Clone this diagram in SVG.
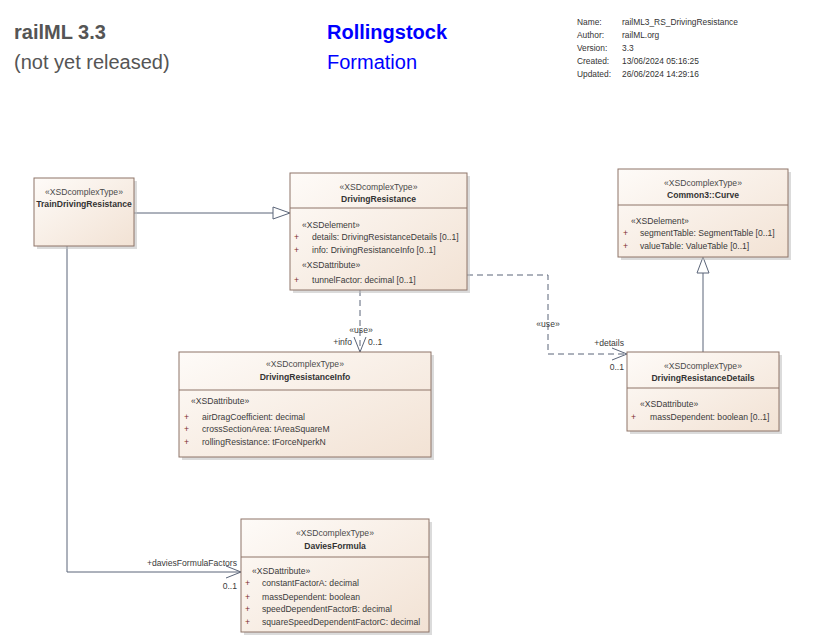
<svg xmlns="http://www.w3.org/2000/svg" width="831" height="644" viewBox="0 0 831 644">
<defs>
<linearGradient id="fillG" x1="0" y1="0" x2="1" y2="1">
<stop offset="0" stop-color="#FEFBF8"/>
<stop offset="1" stop-color="#F2E2D4"/>
</linearGradient>
<style>
.box{fill:url(#fillG);stroke:#8E7468;stroke-width:1}
.shadow{fill:#BDBDBD;opacity:0.55}
.div{stroke:#8E7468;stroke-width:1}
.t{font-family:"Liberation Sans",Arial,sans-serif;font-size:8.6px;fill:#3A3A3A}
.st{font-family:"Liberation Sans",Arial,sans-serif;font-size:8.6px;fill:#4A4A4A;text-anchor:middle}
.nm{font-family:"Liberation Sans",Arial,sans-serif;font-size:8.6px;font-weight:bold;fill:#333;text-anchor:middle}
.pl{font-family:"Liberation Sans",Arial,sans-serif;font-size:8.6px;fill:#7A2A2A}
.meta{font-family:"Liberation Sans",Arial,sans-serif;font-size:8.4px;fill:#333}
.ln{fill:none;stroke:#5A6478;stroke-width:1}
.dash{fill:none;stroke:#5A6478;stroke-width:1;stroke-dasharray:6 4}
.tri{fill:#FFFFFF;stroke:#5A6478;stroke-width:1}
.lbl{font-family:"Liberation Sans",Arial,sans-serif;font-size:8.6px;fill:#3A3A3A}
</style>
</defs>
<rect width="831" height="644" fill="#FFFFFF"/>

<g id="header">
<text x="14" y="39" font-family="Liberation Sans,Arial,sans-serif" font-size="20" font-weight="bold" fill="#555555">railML 3.3</text>
<text x="14" y="69" font-family="Liberation Sans,Arial,sans-serif" font-size="20" fill="#555555">(not yet released)</text>
<text x="327" y="39" font-family="Liberation Sans,Arial,sans-serif" font-size="20" font-weight="bold" fill="#0000FF">Rollingstock</text>
<text x="327" y="69" font-family="Liberation Sans,Arial,sans-serif" font-size="20" fill="#0000FF">Formation</text>
<text class="meta" x="577" y="25">Name:</text>
<text class="meta" x="622" y="25">railML3_RS_DrivingResistance</text>
<text class="meta" x="577" y="38">Author:</text>
<text class="meta" x="622" y="38">railML.org</text>
<text class="meta" x="577" y="51">Version:</text>
<text class="meta" x="622" y="51">3.3</text>
<text class="meta" x="577" y="64">Created:</text>
<text class="meta" x="622" y="64">13/06/2024 05:16:25</text>
<text class="meta" x="577" y="77">Updated:</text>
<text class="meta" x="622" y="77">26/06/2024 14:29:16</text>
</g>

<g id="connectors">
<!-- TrainDrivingResistance -> DrivingResistance generalization -->
<line class="ln" x1="134" y1="213" x2="273" y2="213"/>
<polygon class="tri" points="273,207 290,213 273,219"/>
<!-- DrivingResistanceDetails -> Common3::Curve generalization -->
<line class="ln" x1="703" y1="352" x2="703" y2="273"/>
<polygon class="tri" points="697,273 703,257 709,273"/>
<!-- DrivingResistance -> DrivingResistanceInfo -->
<line class="dash" x1="360" y1="290" x2="360" y2="352"/>
<polyline class="ln" points="354,337 360,352 366,337"/>
<text class="lbl" x="361" y="333" text-anchor="middle">«use»</text>
<text class="lbl" x="352" y="345" text-anchor="end">+info</text>
<text class="lbl" x="368" y="345">0..1</text>
<!-- DrivingResistance -> DrivingResistanceDetails -->
<polyline class="dash" points="467,275 548,275 548,354 627,354"/>
<polyline class="ln" points="612,348 627,354 612,360"/>
<text class="lbl" x="548" y="327" text-anchor="middle">«use»</text>
<text class="lbl" x="624" y="346" text-anchor="end">+details</text>
<text class="lbl" x="624" y="370" text-anchor="end">0..1</text>
<!-- TrainDrivingResistance -> DaviesFormula -->
<polyline class="ln" points="67,246 67,572 241,572"/>
<polyline class="ln" points="226,566 241,572 226,578"/>
<text class="lbl" x="237" y="566" text-anchor="end">+daviesFormulaFactors</text>
<text class="lbl" x="237" y="589" text-anchor="end">0..1</text>
</g>

<g id="TrainDrivingResistance">
<rect class="shadow" x="37" y="181" width="100" height="68"/>
<rect class="box" x="34" y="178" width="100" height="68"/>
<text class="st" x="84" y="195">«XSDcomplexType»</text>
<text class="nm" x="84" y="207">TrainDrivingResistance</text>
</g>

<g id="DrivingResistance">
<rect class="shadow" x="293" y="176" width="177" height="117"/>
<rect class="box" x="290" y="173" width="177" height="117"/>
<line class="div" x1="290" y1="208" x2="467" y2="208"/>
<text class="st" x="378.5" y="190">«XSDcomplexType»</text>
<text class="nm" x="378.5" y="202">DrivingResistance</text>
<text class="t" x="302" y="228">«XSDelement»</text>
<text class="pl" x="294" y="240">+</text>
<text class="t" x="312" y="240">details: DrivingResistanceDetails [0..1]</text>
<text class="pl" x="294" y="253">+</text>
<text class="t" x="312" y="253">info: DrivingResistanceInfo [0..1]</text>
<text class="t" x="302" y="268">«XSDattribute»</text>
<text class="pl" x="294" y="283">+</text>
<text class="t" x="312" y="283">tunnelFactor: decimal [0..1]</text>
</g>

<g id="Common3Curve">
<rect class="shadow" x="621" y="172" width="170" height="88"/>
<rect class="box" x="618" y="169" width="170" height="88"/>
<line class="div" x1="618" y1="205" x2="788" y2="205"/>
<text class="st" x="703" y="186">«XSDcomplexType»</text>
<text class="nm" x="703" y="198">Common3::Curve</text>
<text class="t" x="631" y="224">«XSDelement»</text>
<text class="pl" x="623" y="236">+</text>
<text class="t" x="640" y="236">segmentTable: SegmentTable [0..1]</text>
<text class="pl" x="623" y="249">+</text>
<text class="t" x="640" y="249">valueTable: ValueTable [0..1]</text>
</g>

<g id="DrivingResistanceInfo">
<rect class="shadow" x="182" y="355" width="252" height="105"/>
<rect class="box" x="179" y="352" width="252" height="105"/>
<line class="div" x1="179" y1="390" x2="431" y2="390"/>
<text class="st" x="305" y="367">«XSDcomplexType»</text>
<text class="nm" x="305" y="380">DrivingResistanceInfo</text>
<text class="t" x="191" y="404">«XSDattribute»</text>
<text class="pl" x="184" y="420">+</text>
<text class="t" x="202" y="420">airDragCoefficient: decimal</text>
<text class="pl" x="184" y="432">+</text>
<text class="t" x="202" y="432">crossSectionArea: tAreaSquareM</text>
<text class="pl" x="184" y="445">+</text>
<text class="t" x="202" y="445">rollingResistance: tForceNperkN</text>
</g>

<g id="DrivingResistanceDetails">
<rect class="shadow" x="630" y="355" width="152" height="79"/>
<rect class="box" x="627" y="352" width="152" height="79"/>
<line class="div" x1="627" y1="388" x2="779" y2="388"/>
<text class="st" x="703" y="369">«XSDcomplexType»</text>
<text class="nm" x="703" y="381">DrivingResistanceDetails</text>
<text class="t" x="640" y="407">«XSDattribute»</text>
<text class="pl" x="631" y="420">+</text>
<text class="t" x="650" y="420">massDependent: boolean [0..1]</text>
</g>

<g id="DaviesFormula">
<rect class="shadow" x="244" y="522" width="188" height="113"/>
<rect class="box" x="241" y="519" width="188" height="113"/>
<line class="div" x1="241" y1="557" x2="429" y2="557"/>
<text class="st" x="335" y="536">«XSDcomplexType»</text>
<text class="nm" x="335" y="549">DaviesFormula</text>
<text class="t" x="252" y="574">«XSDattribute»</text>
<text class="pl" x="245" y="586">+</text>
<text class="t" x="262" y="586">constantFactorA: decimal</text>
<text class="pl" x="245" y="600">+</text>
<text class="t" x="262" y="600">massDependent: boolean</text>
<text class="pl" x="245" y="612">+</text>
<text class="t" x="262" y="612">speedDependentFactorB: decimal</text>
<text class="pl" x="245" y="625">+</text>
<text class="t" x="262" y="625">squareSpeedDependentFactorC: decimal</text>
</g>
</svg>
